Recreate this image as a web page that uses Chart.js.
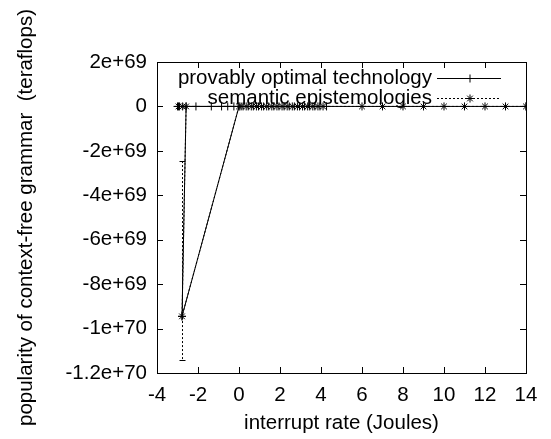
<!DOCTYPE html>
<html>
<head>
<meta charset="utf-8">
<script src="https://cdn.jsdelivr.net/npm/chart.js@4/dist/chart.umd.min.js"></script>
<style>
  body { margin: 0; background: #fff; }
</style>
</head>
<body>
<canvas id="plot" width="551" height="439"></canvas>
<script>
// series values
var techX = [-3.0, -2.9, -2.1, -1.35, -0.85, -0.55, -0.25, -2.58, -2.78, 0.0, 0.2, 0.45, 0.7, 0.95, 1.2, 1.45, 1.7, 1.95, 2.2, 2.45, 2.7, 2.95, 3.2, 3.45, 3.7, 3.95, 4.27, 14];
var techY = [0, 0, 0, 0, 0, 0, 0, 0, -9.45e69, 0, 0, 0, 0, 0, 0, 0, 0, 0, 0, 0, 0, 0, 0, 0, 0, 0, 0, 0];

var semX = [-2.95, -2.75, -2.58, -2.78, 0.0, 0.1, 0.35, 0.6, 0.85, 1.1, 1.35, 1.6, 1.85, 2.1, 2.35, 2.6, 2.85, 3.1, 3.35, 3.6, 3.85, 4.1, 6, 7, 8, 9, 10, 11, 12, 13, 14];
var semY = [0, 0, 0, -9.45e69, 0, 0, 0, 0, 0, 0, 0, 0, 0, 0, 0, 0, 0, 0, 0, 0, 0, 0, 0, 0, 0, 0, 0, 0, 0, 0, 0];
// error bar ends (null where no bar is drawn)
var semLow = [null, null, null, -1.14e70, null, null, null, null, null, null, null, null, null, null, null, null, null, null, null, null, null, null, null, null, null, null, null, null, null, null, null];
var semHigh = [null, null, null, -2.46e69, null, null, null, null, null, null, null, null, null, null, null, null, null, null, null, null, null, null, null, null, null, null, null, null, null, null, null];

var seriesNames = ["provably optimal technology", "semantic epistemologies"];
var xTitle = "interrupt rate (Joules)";
var yTitle = "popularity of context-free grammar  (teraflops)";

function pts(xs, ys) {
  return xs.map(function (x, i) { return { x: x, y: ys[i] }; });
}

var FONT = "'Liberation Sans', Arial, sans-serif";
Chart.defaults.font.family = FONT;
Chart.defaults.font.size = 20.5;
Chart.defaults.color = "#000";

// frame with inward ticks on all sides, gnuplot style
var framePlugin = {
  id: "frame",
  afterDraw: function (chart) {
    var ctx = chart.ctx, a = chart.chartArea;
    var xs = chart.scales.x, ys = chart.scales.y;
    ctx.save();
    ctx.strokeStyle = "#000";
    ctx.lineWidth = 1;
    ctx.strokeRect(Math.round(a.left) + 0.5, Math.round(a.top) + 0.5,
      Math.round(a.right - a.left), Math.round(a.bottom - a.top));
    ctx.beginPath();
    xs.ticks.forEach(function (t) {
      var px = Math.round(xs.getPixelForValue(t.value)) + 0.5;
      ctx.moveTo(px, a.bottom); ctx.lineTo(px, a.bottom - 6);
      ctx.moveTo(px, a.top); ctx.lineTo(px, a.top + 6);
    });
    ys.ticks.forEach(function (t) {
      var py = Math.round(ys.getPixelForValue(t.value)) + 0.5;
      ctx.moveTo(a.left, py); ctx.lineTo(a.left + 6, py);
      ctx.moveTo(a.right, py); ctx.lineTo(a.right - 6, py);
    });
    ctx.stroke();
    ctx.restore();
  }
};

// dotted error bars for the second series
var errorPlugin = {
  id: "errbars",
  afterDatasetsDraw: function (chart) {
    var ctx = chart.ctx, xs = chart.scales.x, ys = chart.scales.y;
    ctx.save();
    ctx.strokeStyle = "#000";
    ctx.lineWidth = 1;
    semLow.forEach(function (lo, i) {
      if (lo == null) return;
      var px = Math.round(xs.getPixelForValue(semX[i])) + 0.5;
      var top = ys.getPixelForValue(semHigh[i]);
      var bot = ys.getPixelForValue(lo);
      ctx.setLineDash([2, 2]);
      ctx.beginPath();
      ctx.moveTo(px, top); ctx.lineTo(px, bot);
      ctx.stroke();
      ctx.setLineDash([]);
      ctx.beginPath();
      ctx.moveTo(px - 3, Math.round(top) + 0.5); ctx.lineTo(px + 3, Math.round(top) + 0.5);
      ctx.moveTo(px - 3, Math.round(bot) + 0.5); ctx.lineTo(px + 3, Math.round(bot) + 0.5);
      ctx.stroke();
    });
    ctx.restore();
  }
};

// key in the top right corner, text right-aligned before the sample
var keyPlugin = {
  id: "key",
  afterDatasetsDraw: function (chart) {
    var ctx = chart.ctx;
    var rows = [78, 98];
    ctx.save();
    ctx.font = "20.5px " + FONT;
    ctx.fillStyle = "#000";
    ctx.textAlign = "right";
    ctx.textBaseline = "middle";
    chart.data.datasets.forEach(function (ds, i) {
      var y = rows[i];
      ctx.fillText(ds.label, 432, y);
      ctx.strokeStyle = "#000";
      ctx.lineWidth = 1;
      ctx.setLineDash(ds.borderDash || []);
      ctx.beginPath();
      ctx.moveTo(437, y + 0.5); ctx.lineTo(501, y + 0.5);
      ctx.stroke();
      ctx.setLineDash([]);
      Chart.helpers.drawPoint(ctx, { pointStyle: ds.pointStyle, radius: 4, borderWidth: 1 }, 470, y + 0.5);
    });
    ctx.restore();
  }
};

function expLabel(v) {
  if (Math.abs(v) < 1e60) return "0";
  return Number(v.toPrecision(4)).toExponential();
}

var chart = new Chart(document.getElementById("plot").getContext("2d"), {
  type: "scatter",
  data: {
    datasets: [
      {
        label: seriesNames[0],
        data: pts(techX, techY),
        showLine: true,
        borderColor: "#000",
        borderWidth: 1,
        pointStyle: "cross",
        pointRadius: 4,
        pointBorderColor: "#000",
        pointBorderWidth: 1
      },
      {
        label: seriesNames[1],
        data: pts(semX, semY),
        showLine: true,
        borderColor: "#000",
        borderWidth: 1,
        borderDash: [2, 2],
        pointStyle: "star",
        pointRadius: 4,
        pointBorderColor: "#000",
        pointBorderWidth: 1
      }
    ]
  },
  options: {
    responsive: false,
    animation: false,
    layout: { padding: { left: 0, right: 25, top: 62, bottom: 0 } },
    plugins: {
      legend: { display: false },
      tooltip: { enabled: false }
    },
    elements: { line: { tension: 0 } },
    scales: {
      x: {
        type: "linear",
        min: -4,
        max: 14,
        ticks: { stepSize: 2, padding: 10, maxRotation: 0 },
        grid: { display: false, drawTicks: false },
        border: { display: false },
        title: { display: true, text: xTitle, padding: { top: 0, bottom: 3 } },
        afterFit: function (s) { s.height = 66; }
      },
      y: {
        type: "linear",
        min: -1.2e70,
        max: 2e69,
        ticks: { stepSize: 2e69, padding: 10, callback: expLabel },
        grid: { display: false, drawTicks: false },
        border: { display: false },
        title: { display: true, text: yTitle, padding: { top: 14, bottom: 0 } },
        afterFit: function (s) { s.width = 157; }
      }
    }
  },
  plugins: [framePlugin, errorPlugin, keyPlugin]
});
</script>
</body>
</html>
